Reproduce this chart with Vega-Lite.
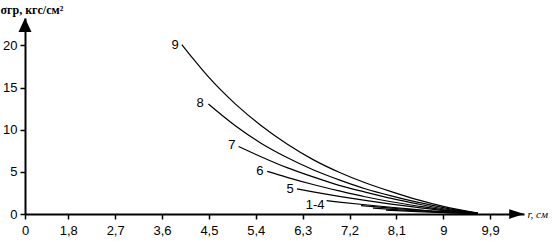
{
  "$schema": "https://vega.github.io/schema/vega-lite/v6.json",
  "width": 499,
  "height": 196,
  "autosize": {"type": "none"},
  "padding": {"left": 25, "top": 18, "right": 28, "bottom": 27},
  "background": "white",
  "config": {
    "view": {"stroke": null},
    "axis": {
      "grid": false,
      "domainColor": "black",
      "domainWidth": 2,
      "tickColor": "black",
      "tickWidth": 1.5,
      "tickSize": 5,
      "labelColor": "black",
      "labelFont": "Liberation Sans",
      "labelFontSize": 13,
      "titleColor": "black"
    }
  },
  "datasets": {
    "curves": [
      {"curve": "9", "x": 3.98, "y": 20.1}, {"curve": "9", "x": 4.2, "y": 18.4}, {"curve": "9", "x": 4.5, "y": 16.2},
      {"curve": "9", "x": 5.0, "y": 13.1}, {"curve": "9", "x": 5.5, "y": 10.5}, {"curve": "9", "x": 6.0, "y": 8.3},
      {"curve": "9", "x": 6.5, "y": 6.45}, {"curve": "9", "x": 7.0, "y": 4.95}, {"curve": "9", "x": 7.5, "y": 3.7},
      {"curve": "9", "x": 8.0, "y": 2.65}, {"curve": "9", "x": 8.5, "y": 1.7}, {"curve": "9", "x": 9.0, "y": 0.9},
      {"curve": "9", "x": 9.66, "y": 0.1},
      {"curve": "8", "x": 4.49, "y": 13.05}, {"curve": "8", "x": 5.0, "y": 10.5}, {"curve": "8", "x": 5.5, "y": 8.4},
      {"curve": "8", "x": 6.0, "y": 6.7}, {"curve": "8", "x": 6.5, "y": 5.25}, {"curve": "8", "x": 7.0, "y": 4.05},
      {"curve": "8", "x": 7.5, "y": 3.0}, {"curve": "8", "x": 8.0, "y": 2.15}, {"curve": "8", "x": 8.5, "y": 1.4},
      {"curve": "8", "x": 9.0, "y": 0.75}, {"curve": "8", "x": 9.66, "y": 0.1},
      {"curve": "7", "x": 5.07, "y": 8.02}, {"curve": "7", "x": 5.5, "y": 6.8}, {"curve": "7", "x": 6.0, "y": 5.5},
      {"curve": "7", "x": 6.5, "y": 4.4}, {"curve": "7", "x": 7.0, "y": 3.4}, {"curve": "7", "x": 7.5, "y": 2.6},
      {"curve": "7", "x": 8.0, "y": 1.85}, {"curve": "7", "x": 8.5, "y": 1.2}, {"curve": "7", "x": 9.0, "y": 0.62},
      {"curve": "7", "x": 9.66, "y": 0.1},
      {"curve": "6", "x": 5.62, "y": 5.05}, {"curve": "6", "x": 6.0, "y": 4.35}, {"curve": "6", "x": 6.5, "y": 3.5},
      {"curve": "6", "x": 7.0, "y": 2.75}, {"curve": "6", "x": 7.5, "y": 2.05}, {"curve": "6", "x": 8.0, "y": 1.45},
      {"curve": "6", "x": 8.5, "y": 0.95}, {"curve": "6", "x": 9.0, "y": 0.5}, {"curve": "6", "x": 9.66, "y": 0.1},
      {"curve": "5", "x": 6.19, "y": 2.97}, {"curve": "5", "x": 6.5, "y": 2.62}, {"curve": "5", "x": 7.0, "y": 2.1},
      {"curve": "5", "x": 7.5, "y": 1.62}, {"curve": "5", "x": 8.0, "y": 1.18}, {"curve": "5", "x": 8.5, "y": 0.78},
      {"curve": "5", "x": 9.0, "y": 0.42}, {"curve": "5", "x": 9.66, "y": 0.1},
      {"curve": "4", "x": 6.76, "y": 1.58}, {"curve": "4", "x": 7.0, "y": 1.42}, {"curve": "4", "x": 7.5, "y": 1.1},
      {"curve": "4", "x": 8.0, "y": 0.8}, {"curve": "4", "x": 8.5, "y": 0.52}, {"curve": "4", "x": 9.0, "y": 0.28},
      {"curve": "4", "x": 9.66, "y": 0.1},
      {"curve": "3", "x": 7.42, "y": 0.99}, {"curve": "3", "x": 8.0, "y": 0.7}, {"curve": "3", "x": 8.5, "y": 0.46},
      {"curve": "3", "x": 9.0, "y": 0.25}, {"curve": "3", "x": 9.66, "y": 0.1},
      {"curve": "2", "x": 7.65, "y": 0.7}, {"curve": "2", "x": 8.0, "y": 0.56}, {"curve": "2", "x": 8.5, "y": 0.37},
      {"curve": "2", "x": 9.0, "y": 0.2}, {"curve": "2", "x": 9.66, "y": 0.1},
      {"curve": "1", "x": 7.9, "y": 0.45}, {"curve": "1", "x": 8.5, "y": 0.28}, {"curve": "1", "x": 9.0, "y": 0.17},
      {"curve": "1", "x": 9.66, "y": 0.1}
    ],
    "labels": [
      {"label": "9", "x": 3.85, "y": 20.08},
      {"label": "8", "x": 4.33, "y": 13.17},
      {"label": "7", "x": 4.94, "y": 8.22},
      {"label": "6", "x": 5.48, "y": 5.05},
      {"label": "5", "x": 6.06, "y": 2.97},
      {"label": "1-4", "x": 6.54, "y": 1.1}
    ],
    "arrows": [
      {"axis": "y", "x": 0, "y": 22.42},
      {"axis": "x", "x": 10.41, "y": 0}
    ]
  },
  "layer": [
    {
      "data": {"name": "curves"},
      "mark": {"type": "line", "color": "black", "strokeWidth": 1.2, "interpolate": "monotone"},
      "encoding": {
        "x": {
          "field": "x", "type": "quantitative",
          "scale": {"domain": [0, 1.8, 10.55], "range": [0, 43.3, 499], "clamp": false, "nice": false, "zero": false},
          "axis": {
            "values": [0, 1.8, 2.7, 3.6, 4.5, 5.4, 6.3, 7.2, 8.1, 9, 9.9],
            "labelExpr": "replace(toString(datum.value), '.', ',')",
            "labelPadding": 5,
            "title": "r, см",
            "titleFont": "Liberation Serif",
            "titleFontStyle": "italic",
            "titleFontWeight": "normal",
            "titleFontSize": 11,
            "titleX": 502,
            "titleY": 0,
            "titleAlign": "left",
            "titleBaseline": "middle",
            "labelFlush": false,
            "labelOverlap": false
          }
        },
        "y": {
          "field": "y", "type": "quantitative",
          "scale": {"domain": [0, 23.25], "nice": false},
          "axis": {
            "values": [0, 5, 10, 15, 20],
            "labelPadding": 3,
            "title": "σгр, кгс/см²",
            "titleFont": "Liberation Serif",
            "titleFontSize": 12,
            "titleFontWeight": "bold",
            "titleAngle": 0,
            "titleAlign": "left",
            "titleBaseline": "middle",
            "titleX": -25,
            "titleY": -9,
            "labelFlush": false
          }
        },
        "detail": {"field": "curve"}
      }
    },
    {
      "data": {"name": "labels"},
      "mark": {"type": "text", "font": "Liberation Sans", "fontSize": 13, "color": "black", "align": "center", "baseline": "middle"},
      "encoding": {
        "x": {"field": "x", "type": "quantitative"},
        "y": {"field": "y", "type": "quantitative"},
        "text": {"field": "label"}
      }
    },
    {
      "data": {"name": "arrows"},
      "transform": [{"filter": "datum.axis == 'y'"}],
      "mark": {"type": "point", "shape": "M0,-1L0.93,1L-0.93,1Z", "filled": true, "color": "black", "opacity": 1, "size": 196, "strokeWidth": 0},
      "encoding": {
        "x": {"field": "x", "type": "quantitative"},
        "y": {"field": "y", "type": "quantitative"}
      }
    },
    {
      "data": {"name": "arrows"},
      "transform": [{"filter": "datum.axis == 'x'"}],
      "mark": {"type": "point", "shape": "M-1,-0.65L1,0L-1,0.65Z", "filled": true, "color": "black", "opacity": 1, "size": 225, "strokeWidth": 0},
      "encoding": {
        "x": {"field": "x", "type": "quantitative"},
        "y": {"field": "y", "type": "quantitative"}
      }
    }
  ]
}
